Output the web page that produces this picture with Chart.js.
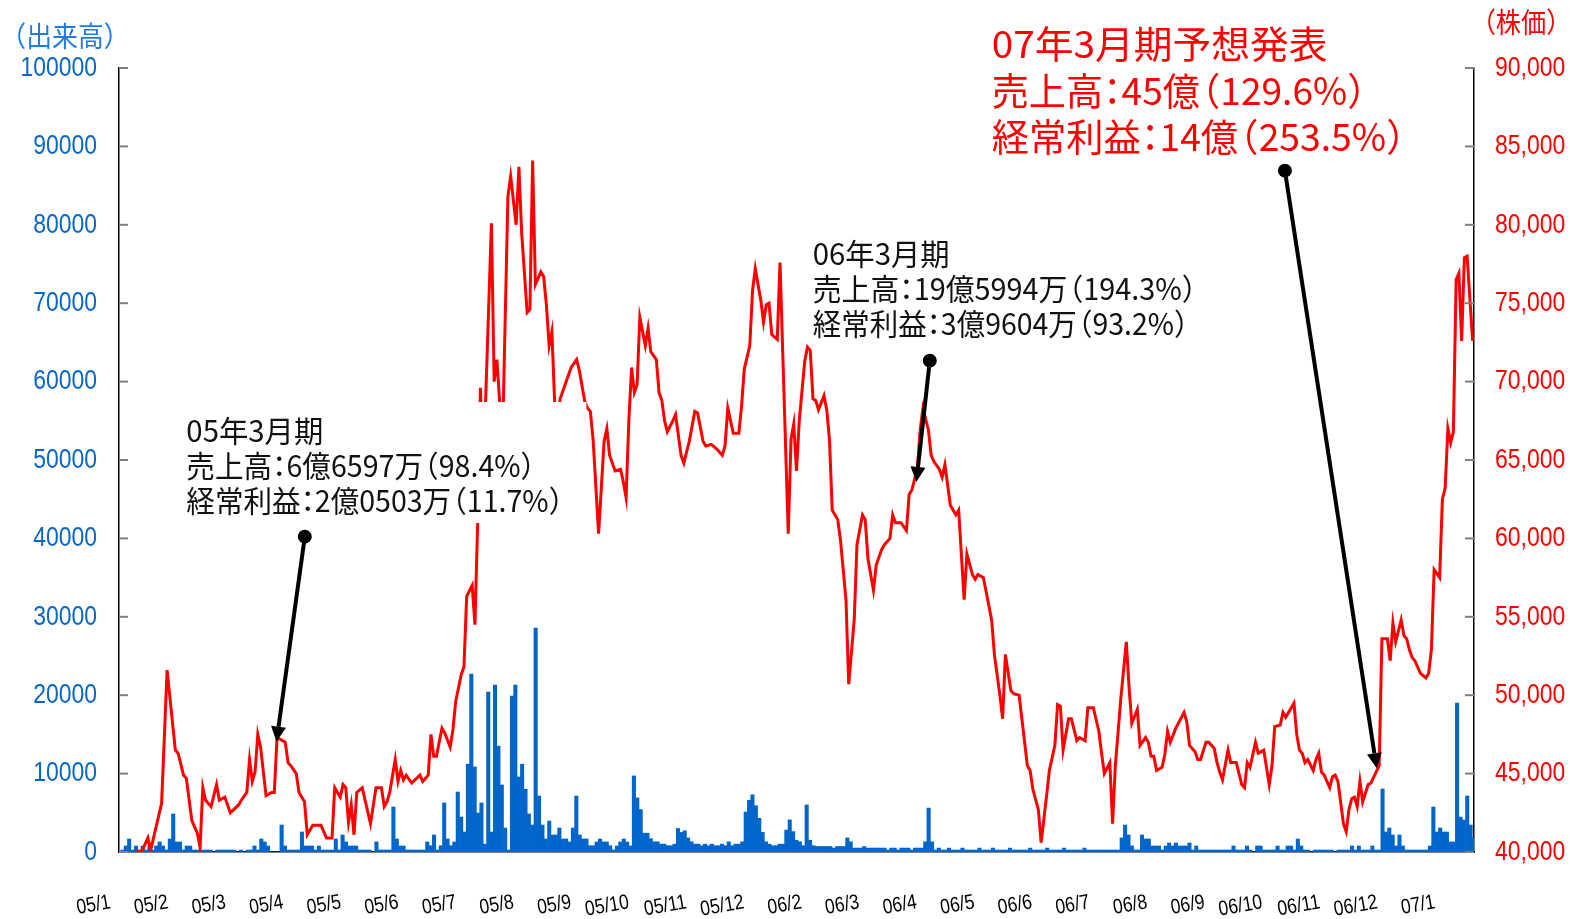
<!DOCTYPE html>
<html>
<head>
<meta charset="utf-8">
<script src="https://cdn.jsdelivr.net/npm/chart.js@4.4.1/dist/chart.umd.min.js"></script>
<style>
  html, body { margin: 0; padding: 0; background: #fff; }
</style>
</head>
<body>
<canvas id="kabuka" width="1572" height="919"></canvas>
<script>
// 出来高 per trading day (one bar each)
const volumes = [
  250, 765, 1660, 250, 765, 250, 765, 250, 765, 250, 765, 1280, 765, 250, 1660, 4850, 1280,
  1280, 250, 765, 765, 250, 250, 250, 250, 250, 250, 0, 250, 250, 250, 250, 250, 250,
  0, 250, 0, 250, 250, 765, 250, 1660, 1280, 765, 0, 0, 0, 3440, 765, 250, 250,
  250, 250, 2550, 765, 765, 765, 250, 765, 250, 250, 250, 250, 1660, 250, 2170, 1280, 765,
  765, 765, 250, 250, 250, 250, 0, 1280, 250, 250, 250, 250, 5740, 1660, 765, 765, 250,
  250, 250, 250, 250, 250, 1280, 800, 2170, 250, 800, 6250, 1660, 800, 1280, 7650, 4460, 2550,
  11200, 22700, 10840, 4970, 6250, 1000, 20400, 2550, 21300, 13500, 8550, 3060, 250, 19900, 21300, 9570, 11200,
  8000, 4850, 3440, 28570, 7140, 3440, 1660, 3950, 2170, 2170, 3060, 1660, 1660, 1280, 3060, 7140, 2170,
  1660, 1660, 800, 800, 1280, 1660, 1280, 1280, 800, 250, 765, 1280, 1660, 1280, 765, 9700, 6900,
  5400, 2400, 2400, 1700, 1300, 1300, 1000, 1000, 800, 800, 1000, 3000, 2500, 2700, 1800, 1300, 1000,
  1000, 800, 1000, 800, 1000, 800, 800, 1000, 800, 1300, 800, 1000, 1000, 1300, 5100, 6600, 7300,
  5900, 4300, 2500, 1300, 1000, 800, 800, 1000, 1000, 2800, 4100, 2600, 1500, 1300, 800, 6000, 1500,
  800, 700, 700, 700, 700, 700, 500, 700, 700, 700, 1800, 1300, 500, 500, 500, 700, 500,
  500, 500, 500, 500, 500, 250, 500, 500, 250, 500, 500, 500, 250, 500, 500, 500, 1300,
  5600, 1300, 250, 500, 250, 250, 500, 250, 250, 250, 500, 250, 250, 250, 250, 500, 250,
  250, 250, 500, 250, 250, 250, 250, 500, 250, 250, 250, 250, 250, 500, 250, 250, 250,
  250, 500, 250, 250, 250, 250, 500, 250, 250, 250, 250, 250, 500, 250, 250, 250, 250,
  250, 250, 250, 250, 250, 250, 1790, 3440, 2170, 765, 250, 250, 2170, 1660, 1660, 765, 765,
  765, 250, 765, 1150, 765, 1150, 765, 765, 765, 1150, 250, 765, 250, 250, 250, 250, 250,
  250, 250, 250, 250, 250, 765, 250, 250, 250, 765, 250, 0, 765, 765, 250, 250, 250,
  250, 765, 250, 250, 765, 765, 250, 1660, 765, 250, 250, 0, 250, 250, 250, 250, 250,
  250, 0, 250, 250, 250, 250, 765, 250, 765, 250, 250, 250, 765, 250, 250, 8040, 2550,
  3060, 2170, 765, 2170, 765, 250, 250, 250, 250, 250, 250, 250, 765, 5740, 2550, 3060, 2550,
  2550, 1280, 1280, 19000, 4460, 4080, 7140, 3440, 1790
];

// axis labels, one every 17 bars
const tickLabels = ['05/1', '05/2', '05/3', '05/4', '05/5', '05/6', '05/7', '05/8', '05/9', '05/10', '05/11', '05/12',
  '06/2', '06/3', '06/4', '06/5', '06/6', '06/7', '06/8', '06/9', '06/10', '06/11', '06/12', '07/1'];
const tickEvery = 17;

// 株価: business day number and closing price at each turn of the line
const priceDays = [
  0, 4, 8, 10, 11, 13, 15, 17, 20, 21, 23, 24, 26, 28, 29, 30, 31, 33, 35, 36, 38, 40, 43, 44, 46, 47, 48, 49, 50, 51,
  53, 55, 56, 57, 60, 61, 62, 64, 65, 67, 68, 69, 70, 73, 75, 77, 78, 80, 81, 82, 83, 84, 85, 86, 88, 91, 93, 95, 96, 97,
  98, 100, 101, 102, 103, 104, 106, 109, 110, 112, 113, 114, 115, 117, 118, 120, 121, 122, 124, 125, 126, 128, 129, 130, 131, 132, 135, 136, 137, 139,
  141, 142, 144, 145, 146, 148, 149, 150, 151, 153, 154, 155, 156, 157, 158, 159, 160, 164, 166, 167, 169, 170, 171, 172,
  174, 176, 177, 178, 180, 182, 183, 184, 185, 186, 187, 188, 189, 191, 192, 193, 195, 196, 197, 198, 199, 201, 202, 204, 205, 207,
  209, 210, 212, 213, 215, 217, 219, 220, 221, 223, 225, 226, 227, 229, 230, 231, 233, 234, 235, 236, 237, 239, 240,
  243, 244, 245, 246, 247, 249, 250, 251, 252, 253, 254, 256, 257, 258, 259, 261, 262, 264, 265, 267, 268, 270, 271, 272, 274, 275, 277, 278,
  280, 281, 282, 284, 286, 287, 288, 290, 291, 292, 294, 295, 296, 298, 299, 300, 302, 303, 304, 305, 307, 308, 310, 311, 312, 314, 315,
  317, 318, 320, 321, 322, 324, 325, 327, 328, 330, 331, 332, 334, 335, 337, 338, 340, 341, 342, 343, 345, 346, 348, 349, 351, 352, 354,
  356, 357, 358, 360, 361, 362, 364, 366, 367, 368, 370, 371, 373, 374, 375, 376, 377, 379, 380, 381, 382, 384, 387, 388, 389, 391, 392, 393,
  395, 396, 398, 399, 400, 401, 403, 404, 406, 407, 408, 409, 410, 411, 413, 414, 416, 418, 419, 420, 422, 423, 424, 426, 427, 428, 429, 430,
  431, 432, 434, 435, 436, 437, 438, 440, 441, 442, 443, 445, 446, 447, 448, 449, 450, 451, 452, 454, 455, 458, 459, 461, 462, 463, 464,
  466, 467, 468, 469, 470, 471, 473, 475, 476, 477, 478, 480, 481, 482, 483, 484, 485, 486, 487, 488, 489, 490, 491, 492
];
const prices = [
  39900, 39900, 40100, 40900, 40100, 41600, 43100, 51600, 46500, 46300, 44900, 44700, 42000, 41200, 40300, 44100, 43300, 42900, 44300, 43300, 43500, 42500, 43000, 43300, 43800, 45900, 44500, 45100, 47500, 46700,
  43600, 43800, 43800, 47300, 47000, 45700, 45500, 45000, 43800, 43200, 41100, 41400, 41700, 41700, 40900, 40900, 44100, 43500, 44300, 44100, 41900, 43000, 41100, 43800, 44100, 41800, 44100, 44100, 42900, 43200,
  43800, 45900, 44500, 45200, 44600, 44900, 44400, 44900, 44500, 44900, 47500, 46100, 46100, 47900, 47600, 46700, 47800, 49600, 51300, 51800, 56300, 57000, 54500, 61000, 69600, 64000, 80100, 70000, 71400, 66000,
  81800, 83100, 80000, 83700, 79500, 74400, 74600, 84100, 76200, 77000, 76700, 74900, 72300, 73200, 68700, 67000, 68900, 70900, 71400, 70700, 68700, 68300, 68100, 66300,
  60300, 66200, 67000, 65300, 64300, 64400, 63600, 62600, 67500, 70900, 69300, 69800, 74100, 72300, 73400, 71900, 71400, 69300, 68800, 67500, 66800, 67500, 67900, 65300, 64800, 66200,
  68100, 68000, 66200, 65900, 66000, 65700, 65300, 65900, 68300, 66700, 66700, 68400, 70800, 72300, 75800, 77200, 75200, 73800, 74900, 75000, 73000, 72700, 77600,
  60300, 66300, 67300, 64300, 67500, 71300, 72200, 72000, 68900, 68800, 68200, 69100, 68200, 66300, 61800, 61200, 59900, 56100, 50700, 54800, 59600, 61500, 61200, 58700, 56700, 58300, 59300, 59600,
  60000, 61500, 61000, 61000, 60500, 62800, 63100, 64500, 66900, 68300, 66900, 65300, 64900, 64400, 63900, 64700, 62100, 61800, 61500, 61800, 56100, 59000, 57700, 57400, 57700, 57500, 56600,
  54800, 52600, 50000, 48500, 52600, 50300, 50100, 50000, 48500, 45500, 45200, 44000, 42700, 40600, 43600, 45200, 46800, 49400, 49300, 46500, 48500, 48500, 47100, 47300, 47100, 49200, 49200,
  47700, 46300, 45000, 45700, 41800, 45500, 49800, 53400, 50500, 48200, 49100, 46800, 47300, 47000, 46100, 46100, 45200, 45400, 46200, 47700, 47000, 47900, 48900, 48300, 46800, 46400, 45900, 45900,
  47000, 47000, 46600, 45700, 45100, 44600, 46500, 45700, 45700, 45000, 44300, 44100, 45700, 45400, 47000, 46300, 46500, 44300, 45500, 48000, 48100, 48900, 48600, 49200, 49500, 47500, 46500, 46300,
  45700, 45900, 45200, 45900, 46300, 45100, 44900, 44100, 44800, 44900, 44500, 41800, 41300, 42700, 43400, 43500, 42900, 44500, 43200, 44300, 44400, 45500, 53600, 53600, 52200, 54600, 53400,
  54800, 53800, 53600, 52900, 52400, 52200, 51400, 51100, 51400, 52900, 58000, 57500, 62500, 63200, 67000, 66100, 66800, 76500, 76900, 72600, 77900, 78000, 75300, 72600
];

// callouts, anchored on the price scale (day, price)
const callouts = [
  { from: [67.1, 60110], to: [56.8, 47035] },
  { from: [294.5, 71335], to: [289.6, 63600] },
  { from: [423.7, 83454], to: [457.1, 45340] }
];
const notes = [
  { day: 24, price: 66850, color: '#111', size: 30, step: 35, widths: [137, 350, 378],
    lines: ['05年3月期', '売上高：6億6597万（98.4%）', '経常利益：2億0503万（11.7%）'], box: true },
  { day: 251.9, price: 78140, color: '#111', size: 30, step: 35, widths: [137, 385, 377],
    lines: ['06年3月期', '売上高：19億5994万（194.3%）', '経常利益：3億9604万（93.2%）'] },
  { day: 317, price: 91534, color: '#ff0000', size: 38, step: 46.5, widths: [336, 376, 415],
    lines: ['07年3月期予想発表', '売上高：45億（129.6%）', '経常利益：14億（253.5%）'] }
];

const JP = "'Noto Sans CJK JP', 'Noto Sans CJK SC', sans-serif";
const SANS = "'Liberation Sans', Arial, sans-serif";
const BLUE = '#0a66c8';
const RED = '#ff0000';

// full-width punctuation drawn half width, like a proportional Japanese font
function drawJP(ctx, text, x, y, target) {
  const parts = [];
  let w = 0;
  for (const ch of text) {
    const cw = ctx.measureText(ch).width;
    let adv = cw, off = 0;
    if (ch === '：') { adv = cw * 0.5; off = -cw * 0.25; }
    else if (ch === '（') { adv = cw * 0.55; off = -cw * 0.45; }
    else if (ch === '）') { adv = cw * 0.55; }
    parts.push([ch, w + off]);
    w += adv;
  }
  const s = target ? target / w : 1;
  ctx.save();
  ctx.translate(x, y);
  ctx.scale(s, 1);
  parts.forEach(p => ctx.fillText(p[0], p[1], 0));
  ctx.restore();
}

// narrow text (the original uses a condensed face)
function drawNarrow(ctx, text, x, y, squeeze, align, rot) {
  ctx.save();
  ctx.translate(x, y);
  if (rot) ctx.rotate(rot);
  ctx.scale(squeeze, 1);
  ctx.textAlign = align;
  ctx.fillText(text, 0, 0);
  ctx.restore();
}

const extras = {
  id: 'extras',
  afterDatasetsDraw(chart) {
    const ctx = chart.ctx, a = chart.chartArea;
    const sx = chart.scales.x2, sy = chart.scales.y1, sv = chart.scales.y, sb = chart.scales.x;
    ctx.save();

    // inner tick marks
    ctx.strokeStyle = '#7f7f7f';
    ctx.lineWidth = 2;
    sv.ticks.forEach(t => {
      const y = sv.getPixelForValue(t.value);
      ctx.beginPath(); ctx.moveTo(a.left, y); ctx.lineTo(a.left + 9, y); ctx.stroke();
    });
    sy.ticks.forEach(t => {
      const y = sy.getPixelForValue(t.value);
      ctx.beginPath(); ctx.moveTo(a.right - 9, y); ctx.lineTo(a.right, y); ctx.stroke();
    });

    // tick labels
    ctx.textBaseline = 'middle';
    ctx.font = '28px ' + SANS;
    ctx.fillStyle = BLUE;
    sv.ticks.forEach(t => drawNarrow(ctx, String(t.value), a.left - 22, sv.getPixelForValue(t.value), 0.82, 'right'));
    ctx.fillStyle = RED;
    sy.ticks.forEach(t => drawNarrow(ctx, t.value.toLocaleString('en-US'), a.right + 21, sy.getPixelForValue(t.value), 0.82, 'left'));
    ctx.textBaseline = 'top';
    ctx.font = '21px ' + SANS;
    ctx.fillStyle = '#000';
    sb.ticks.forEach((t, i) => drawNarrow(ctx, tickLabels[i], sb.getPixelForValue(t.value) - 12, a.bottom + 40, 0.84, 'right', -10 * Math.PI / 180));

    // notes
    ctx.textBaseline = 'middle';
    ctx.textAlign = 'left';
    notes.forEach(n => {
      const x = sx.getPixelForValue(n.day), y = sy.getPixelForValue(n.price);
      if (n.box) {
        ctx.fillStyle = '#fff';
        ctx.fillRect(x - 11, y - 29, 411, 121);
      }
      ctx.fillStyle = n.color;
      ctx.font = n.size + 'px ' + JP;
      n.lines.forEach((t, i) => drawJP(ctx, t, x, y + i * n.step, n.widths[i]));
    });

    // arrows
    ctx.fillStyle = '#000';
    ctx.strokeStyle = '#000';
    ctx.lineWidth = 4;
    callouts.forEach(c => {
      const x0 = sx.getPixelForValue(c.from[0]), y0 = sy.getPixelForValue(c.from[1]);
      const x1 = sx.getPixelForValue(c.to[0]), y1 = sy.getPixelForValue(c.to[1]);
      const ang = Math.atan2(y1 - y0, x1 - x0);
      const hl = 15, hw = 7.5;
      const bx = x1 - hl * Math.cos(ang), by = y1 - hl * Math.sin(ang);
      ctx.beginPath(); ctx.moveTo(x0, y0); ctx.lineTo(bx, by); ctx.stroke();
      ctx.beginPath();
      ctx.moveTo(x1, y1);
      ctx.lineTo(bx + hw * Math.sin(ang), by - hw * Math.cos(ang));
      ctx.lineTo(bx - hw * Math.sin(ang), by + hw * Math.cos(ang));
      ctx.closePath(); ctx.fill();
      ctx.beginPath(); ctx.arc(x0, y0, 7, 0, Math.PI * 2); ctx.fill();
    });

    // axis titles
    ctx.font = '28px ' + JP;
    ctx.fillStyle = '#1f7ae8';
    drawJP(ctx, '（出来高）', 12, 36, 106);
    ctx.fillStyle = RED;
    drawJP(ctx, '（株価）', 1482, 22, 78);
    ctx.restore();
  }
};

const hidden = { display: false };

new Chart('kabuka', {
  type: 'bar',
  data: {
    datasets: [
      {
        type: 'line',
        label: '株価',
        data: priceDays.map((d, i) => ({ x: d, y: prices[i] })),
        xAxisID: 'x2',
        yAxisID: 'y1',
        borderColor: RED,
        borderWidth: 3,
        pointRadius: 0,
        tension: 0,
        order: 0
      },
      {
        label: '出来高',
        data: volumes.map((v, i) => ({ x: i, y: v })),
        xAxisID: 'x',
        yAxisID: 'y',
        backgroundColor: '#0066cc',
        barThickness: 3.4,
        order: 1
      }
    ]
  },
  options: {
    responsive: false,
    animation: false,
    events: [],
    layout: { padding: { top: 68 } },
    plugins: { legend: { display: false }, tooltip: { enabled: false } },
    scales: {
      x: {
        type: 'linear',
        offset: false,
        min: -0.5,
        max: volumes.length - 0.5,
        grid: hidden,
        border: { color: '#000', width: 1.5 },
        afterBuildTicks: s => { s.ticks = tickLabels.map((_, i) => ({ value: i * tickEvery })); },
        afterFit: s => { s.height = 67; },
        ticks: { display: false, autoSkip: false }
      },
      // business-day axis for the price line, same width, nothing drawn
      x2: {
        type: 'linear',
        position: 'bottom',
        offset: false,
        min: -0.5,
        max: priceDays[priceDays.length - 1] + 0.5,
        grid: hidden,
        border: hidden,
        ticks: hidden,
        afterFit: s => { s.height = 0; }
      },
      y: {
        position: 'left',
        min: 0,
        max: 100000,
        grid: hidden,
        border: { color: '#000', width: 1.5 },
        afterFit: s => { s.width = 119; },
        ticks: { display: false, stepSize: 10000 }
      },
      y1: {
        position: 'right',
        min: 40000,
        max: 90000,
        grid: hidden,
        border: { color: '#000', width: 1.5 },
        afterFit: s => { s.width = 98; },
        ticks: { display: false, stepSize: 5000 }
      }
    }
  },
  plugins: [extras]
});
</script>
</body>
</html>
